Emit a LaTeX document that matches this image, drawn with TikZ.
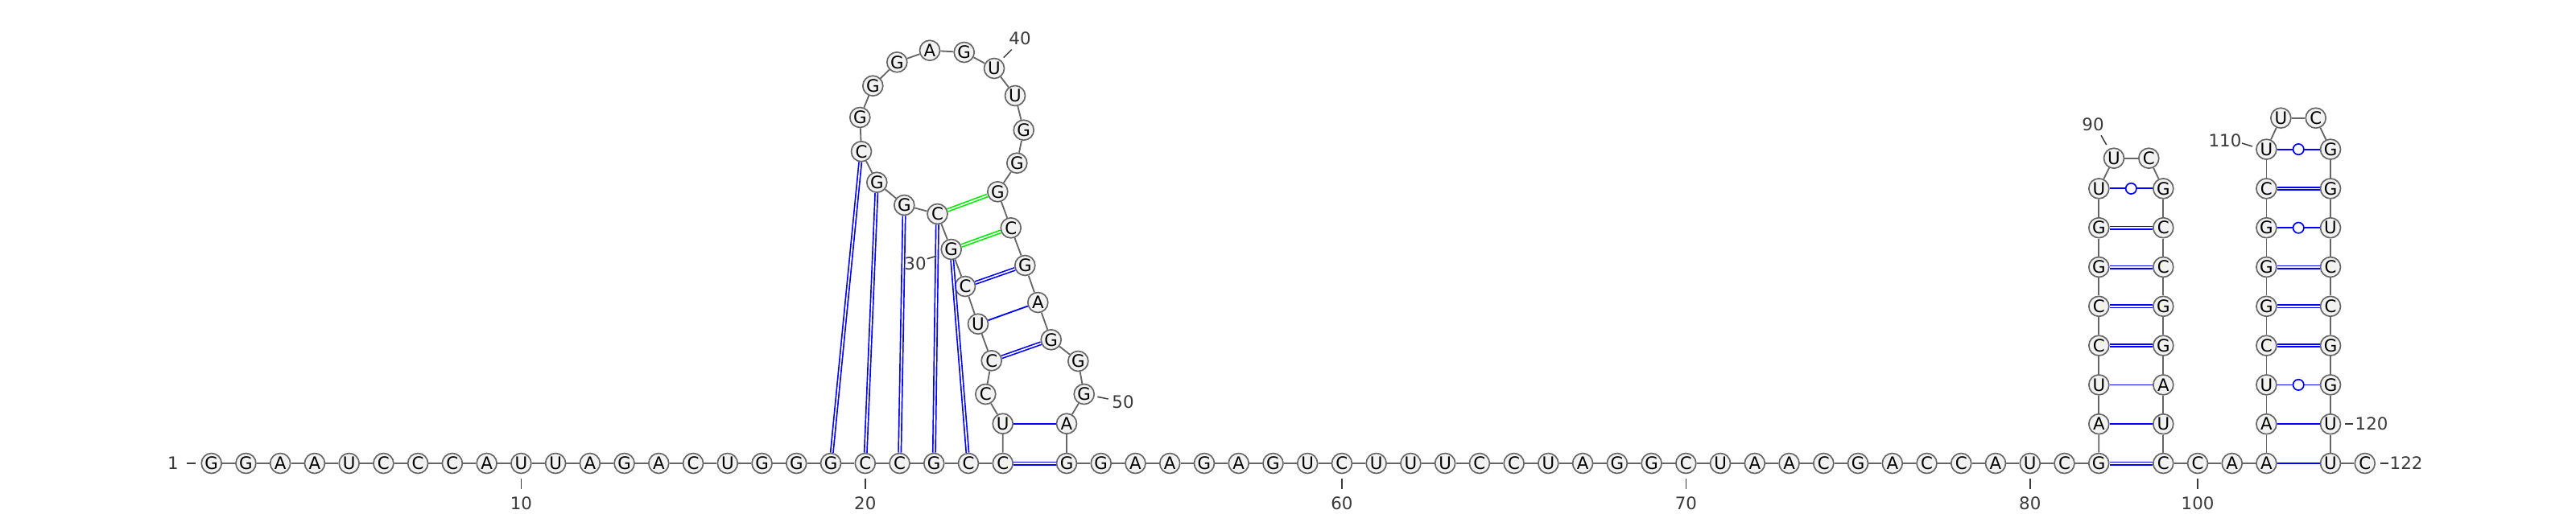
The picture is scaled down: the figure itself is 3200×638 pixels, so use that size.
\documentclass[tikz,border=0pt]{standalone}
\usepackage{fontspec}
\setmainfont{DejaVu Sans}
\usetikzlibrary{calc}
\definecolor{bbc}{HTML}{666666}
\definecolor{nfill}{HTML}{F2F2F2}
\definecolor{labc}{HTML}{3A3A3A}
\definecolor{pkgreen}{HTML}{00EE00}
\tikzset{
  nt/.style={circle, draw=bbc, fill=nfill, line width=0.5pt, minimum size=7.5pt, inner sep=0pt,
    font=\fontsize{6.4pt}{6.4pt}\selectfont},
  bk/.style={draw=bbc, line width=0.55pt},
  gcpair/.style={draw=blue, line width=0.5pt, double=white, double distance=0.5pt},
  gnpair/.style={draw=pkgreen, line width=0.5pt, double=white, double distance=0.5pt},
  aupair/.style={draw=blue, line width=0.55pt},
  wob/.style={circle, draw=blue, fill=white, line width=0.5pt, minimum size=4pt, inner sep=0pt},
  lbl/.style={text=labc, inner sep=0pt, font=\fontsize{6.4pt}{6.4pt}\selectfont},
  tk/.style={draw=labc, line width=0.45pt}
}
\begin{document}
\begin{tikzpicture}[x=0.3pt, y=-0.3pt]
\useasboundingbox (0,0) rectangle (3200,638);
% baseline 1..24
\foreach \L [count=\i] in {G,G,A,A,U,C,C,C,A,U,U,A,G,A,C,U,G,G,G,C,C,G,C,C}
  \node[nt] (n\i) at ({262.7+(\i-1)*42.74},576) {\L};
% hairpin/pseudoknot region 25..51
\foreach \k/\x/\y/\L in {25/1245.7/526.7/U, 26/1224.3/490/C, 27/1231.7/448.3/C, 28/1215/402.7/U,
  29/1199/356/C, 30/1181.7/310/G, 31/1164.5/266/C, 32/1123.3/255/G, 33/1089.3/226.7/G,
  34/1070/188.3/C, 35/1068.3/146/G, 36/1084.3/106.7/G, 37/1114.3/77.3/G, 38/1155/62.7/A,
  39/1197.7/65/G, 40/1235/85/U, 41/1261/119/U, 42/1271.7/161.7/G, 43/1263.3/202.7/G,
  44/1239.3/238.3/G, 45/1255.7/283.3/C, 46/1273.3/330/G, 47/1289.3/376/A, 48/1305.7/422.3/G,
  49/1339.3/449/G, 50/1346.7/490/G, 51/1325/526.7/A}
  \node[nt] (n\k) at (\x,\y) {\L};
% baseline 52..82
\foreach \L [count=\k from 52] in {G,G,A,A,G,A,G,U,C,U,U,U,C,C,U,A,G,G,C,U,A,A,C,G,A,C,C,A,U,C,G}
  \node[nt] (n\k) at ({1325+(\k-52)*42.74},576) {\L};
% hairpin 1
\foreach \L [count=\k from 83] in {A,U,C,C,G,G,U}
  \node[nt] (n\k) at (2607.3,{576-(\k-82)*48.8}) {\L};
\node[nt] (n90) at (2626,196.7) {U};
\node[nt] (n91) at (2669.3,196.7) {C};
\foreach \L [count=\k from 92] in {G,C,C,G,G,A,U}
  \node[nt] (n\k) at (2687.3,{576-(99-\k)*48.8}) {\L};
\node[nt] (n99) at (2687.3,576) {C};
\node[nt] (n100) at (2730,576) {C};
\node[nt] (n101) at (2772.7,576) {A};
\node[nt] (n102) at (2815.4,576) {A};
% hairpin 2
\foreach \L [count=\k from 103] in {A,U,C,G,G,G,C,U}
  \node[nt] (n\k) at (2815.4,{576-(\k-102)*48.8}) {\L};
\node[nt] (n111) at (2833.3,146.7) {U};
\node[nt] (n112) at (2876.7,146.7) {C};
\foreach \L [count=\k from 113] in {G,G,U,C,C,G,G,U}
  \node[nt] (n\k) at (2895,{576-(121-\k)*48.8}) {\L};
\node[nt] (n121) at (2895,576) {U};
\node[nt] (n122) at (2937.7,576) {C};
% backbone
\foreach \i [evaluate=\i as \j using int(\i+1)] in {1,...,121}
  \draw[bk] (n\i) -- (n\j);
% pairs
\foreach \a/\b in {19/34,20/33,21/32,22/31,23/30,24/52,27/48,29/46,82/99,87/94,88/93,86/95,85/96,
  105/118,106/117,107/116,109/114}
  \draw[gcpair] (n\a) -- (n\b);
\foreach \a/\b in {30/45,31/44}
  \draw[gnpair] (n\a) -- (n\b);
\foreach \a/\b in {25/51,28/47,83/98,84/97,102/121,103/120}
  \draw[aupair] (n\a) -- (n\b);
\foreach \a/\b in {89/92,104/119,108/115,110/113}
  \draw[aupair] (n\a) -- node[wob] (w\a) {} (n\b);
% labels
\node[lbl] (l1) at (215,576) {1};
\coordinate (t1a) at (231.7,576); \coordinate (t1b) at (243.3,576);
\draw[tk] (t1a) -- (t1b);
\foreach \k in {10,20,60,70,80,100} {
  \coordinate (ta\k) at ($(n\k)+(0,19)$);
  \coordinate (tb\k) at ($(n\k)+(0,32)$);
  \draw[tk] (ta\k) -- (tb\k);
  \node[lbl] (l\k) at ($(n\k)+(0,50)$) {\k};
}
\node[lbl] (l30) at (1137,328) {30};
\coordinate (t30a) at (1151.7,321.7); \coordinate (t30b) at (1163.3,318.3);
\draw[tk] (t30a) -- (t30b);
\node[lbl] (l40) at (1267,48) {40};
\coordinate (t40a) at (1246.7,71.7); \coordinate (t40b) at (1256.7,61.7);
\draw[tk] (t40a) -- (t40b);
\node[lbl] (l50) at (1395,500) {50};
\coordinate (t50a) at (1363.3,493.3); \coordinate (t50b) at (1376.7,496);
\draw[tk] (t50a) -- (t50b);
\node[lbl] (l90) at (2600,155) {90};
\coordinate (t90a) at (2610,168.3); \coordinate (t90b) at (2616.7,180);
\draw[tk] (t90a) -- (t90b);
\node[lbl, anchor=east] (l110) at (2785,175) {110};
\coordinate (t110a) at (2785,178); \coordinate (t110b) at (2798,182);
\draw[tk] (t110a) -- (t110b);
\coordinate (t120a) at (2913,527); \coordinate (t120b) at (2923,527);
\draw[tk] (t120a) -- (t120b);
\node[lbl, anchor=west] (l120) at (2925,527) {120};
\coordinate (t122a) at (2956.7,576); \coordinate (t122b) at (2966.7,576);
\draw[tk] (t122a) -- (t122b);
\node[lbl, anchor=west] (l122) at (2968,576) {122};
\end{tikzpicture}
\end{document}
